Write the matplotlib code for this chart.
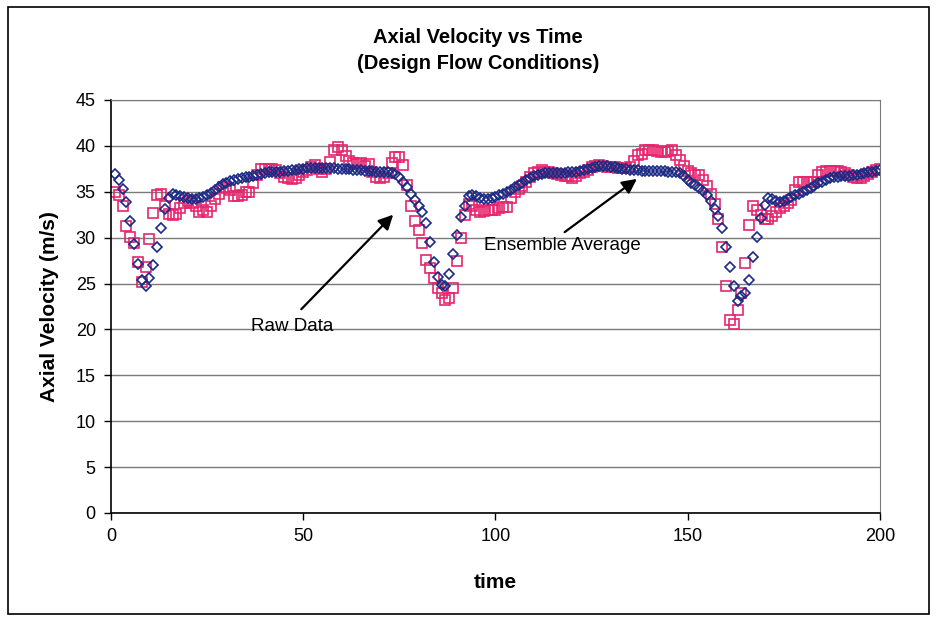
import numpy as np
import matplotlib
matplotlib.use("Agg")
import matplotlib.pyplot as plt
from matplotlib.patches import Rectangle

plt.rcParams["font.family"] = ["Liberation Sans", "DejaVu Sans"]

# time axis, one sample per unit
time = np.arange(1, 201)

# ensemble average (blue diamonds), m/s
ensemble = [
    36.9, 36.3, 35.3, 33.9, 31.8, 29.3, 27.1, 25.4, 24.7, 25.6,
    27.0, 29.0, 31.1, 33.1, 34.3, 34.8, 34.6, 34.5, 34.4, 34.3,
    34.2, 34.2, 34.3, 34.4, 34.6, 34.9, 35.2, 35.5, 35.8, 36.0,
    36.2, 36.3, 36.4, 36.5, 36.6, 36.6, 36.7, 36.8, 36.9, 37.0,
    37.1, 37.1, 37.2, 37.2, 37.3, 37.3, 37.4, 37.4, 37.5, 37.5,
    37.6, 37.6, 37.6, 37.6, 37.6, 37.6, 37.6, 37.6, 37.5, 37.5,
    37.5, 37.5, 37.4, 37.4, 37.4, 37.3, 37.3, 37.3, 37.2, 37.2,
    37.1, 37.1, 37.0, 36.9, 36.6, 36.1, 35.5, 34.8, 34.1, 33.5,
    32.8, 31.6, 29.5, 27.3, 25.7, 24.8, 24.7, 26.0, 28.2, 30.3,
    32.2, 33.5, 34.5, 34.7, 34.5, 34.3, 34.2, 34.2, 34.3, 34.4,
    34.6, 34.8, 35.0, 35.2, 35.5, 35.7, 36.0, 36.3, 36.5, 36.7,
    36.8, 36.9, 37.0, 37.0, 37.0, 37.0, 37.0, 37.0, 37.1, 37.1,
    37.2, 37.3, 37.4, 37.5, 37.6, 37.7, 37.8, 37.8, 37.8, 37.7,
    37.7, 37.6, 37.5, 37.5, 37.4, 37.4, 37.4, 37.3, 37.3, 37.3,
    37.3, 37.3, 37.3, 37.3, 37.2, 37.2, 37.1, 37.0, 36.7, 36.3,
    36.0, 35.7, 35.4, 35.1, 34.6, 34.0, 33.1, 32.4, 31.1, 29.0,
    26.8, 24.7, 23.1, 23.6, 24.0, 25.4, 27.9, 30.1, 32.1, 33.6,
    34.3, 34.2, 34.0, 33.9, 34.0, 34.2, 34.4, 34.6, 34.8, 35.0,
    35.2, 35.4, 35.6, 35.9, 36.1, 36.3, 36.5, 36.6, 36.6, 36.7,
    36.7, 36.7, 36.8, 36.8, 36.9, 37.0, 37.1, 37.2, 37.3, 37.4,
]

# raw data (pink squares), m/s
raw = [
    35.0, 34.6, 33.4, 31.3, 30.1, 29.4, 27.3, 25.2, 26.8, 29.9,
    32.7, 34.6, 34.8, 33.5, 32.6, 32.5, 32.6, 33.2, 33.8, 34.0,
    33.8, 33.4, 32.8, 33.0, 32.8, 33.5, 34.2, 34.8, 35.5, 35.4,
    35.2, 34.5, 34.5, 34.7, 35.0, 35.0, 35.9, 36.8, 37.5, 37.5,
    37.5, 37.5, 37.4, 37.0, 36.6, 36.5, 36.4, 36.5, 36.8, 37.2,
    37.4, 37.7, 37.9, 37.5, 37.2, 37.5, 38.2, 39.5, 39.9, 39.6,
    38.9, 38.3, 38.1, 38.0, 38.1, 37.8, 38.0, 37.2, 36.6, 36.5,
    36.6, 37.0, 38.1, 38.8, 38.8, 37.9, 35.7, 33.4, 31.8, 30.8,
    29.4, 27.6, 26.7, 25.6, 24.5, 24.0, 23.2, 23.4, 24.5, 27.5,
    30.0, 32.5, 33.7, 33.5, 33.0, 32.8, 32.9, 33.0, 33.0, 33.0,
    33.2, 33.3, 33.3, 34.3, 35.0, 35.3, 35.6, 36.1, 36.6, 37.0,
    37.2, 37.4, 37.2, 37.1, 37.0, 36.9, 36.8, 36.7, 36.7, 36.5,
    36.7, 37.0, 37.2, 37.4, 37.7, 37.8, 37.9, 37.8, 37.7, 37.7,
    37.7, 37.6, 37.6, 37.6, 37.7, 38.4, 39.0, 39.1, 39.5, 39.6,
    39.5, 39.4, 39.3, 39.3, 39.4, 39.5, 39.0, 38.5, 37.8, 37.3,
    37.0, 36.8, 36.8, 36.3, 35.6, 34.8, 33.7, 32.0, 29.0, 24.7,
    21.0, 20.6, 22.1, 24.0, 27.2, 31.4, 33.4, 33.0, 32.5, 32.0,
    32.0, 32.4, 32.8, 33.2, 33.5, 33.8, 34.1, 35.2, 36.1, 36.1,
    36.1, 36.1, 36.1, 36.8, 37.2, 37.3, 37.3, 37.3, 37.3, 37.2,
    37.0, 36.8, 36.6, 36.5, 36.5, 36.7, 36.9, 37.1, 37.4, 37.5,
]

x_ticks = [0, 50, 100, 150, 200]
y_ticks = [0, 5, 10, 15, 20, 25, 30, 35, 40, 45]

BLUE = "#1b2a85"
PINK = "#e8246e"

fig = plt.figure(figsize=(9.37, 6.21), dpi=100)
ax = fig.add_axes([0.1185, 0.174, 0.8205, 0.665])

ax.plot(time, raw, ls="none", marker="s", ms=6.6, mfc="none",
        mec=PINK, mew=1.2)
ax.plot(time, ensemble, ls="none", marker="D", ms=4.9, mfc="none",
        mec=BLUE, mew=1.2)

ax.set_xlim(0, 200)
ax.set_ylim(0, 45)
ax.set_xticks(x_ticks)
ax.set_yticks(y_ticks)
ax.tick_params(labelsize=13, length=5, width=1, direction="out", pad=6)
ax.yaxis.grid(True, color="#7a7a7a", lw=1)
ax.set_axisbelow(True)
for side in ("top", "right"):
    ax.spines[side].set_color("#7a7a7a")
for side in ("left", "bottom"):
    ax.spines[side].set_color("black")
    ax.spines[side].set_linewidth(1.2)

ax.set_xlabel("time", fontsize=15, fontweight="bold", labelpad=20)
ax.set_ylabel("Axial Velocity (m/s)", fontsize=15, fontweight="bold", labelpad=12)
fig.suptitle("Axial Velocity vs Time\n(Design Flow Conditions)", fontsize=14.5,
             fontweight="bold", x=0.51, y=0.955, linespacing=1.45)

arrow = dict(arrowstyle="-|>", color="black", lw=1.6, mutation_scale=22,
             shrinkA=0, shrinkB=0)
ax.text(47.1, 20.3, "Raw Data", fontsize=13.5, ha="center", va="center")
ax.annotate("", xy=(73.4, 32.5), xytext=(49.5, 22.2), arrowprops=arrow)
ax.text(117.3, 29.1, "Ensemble Average", fontsize=13.5, ha="center", va="center")
ax.annotate("", xy=(136.8, 36.4), xytext=(118.0, 30.6), arrowprops=arrow)

fig.patches.append(Rectangle((0.009, 0.012), 0.982, 0.976, transform=fig.transFigure,
                             fill=False, ec="black", lw=1.2))

fig.savefig("out.png", dpi=100, facecolor="white")
